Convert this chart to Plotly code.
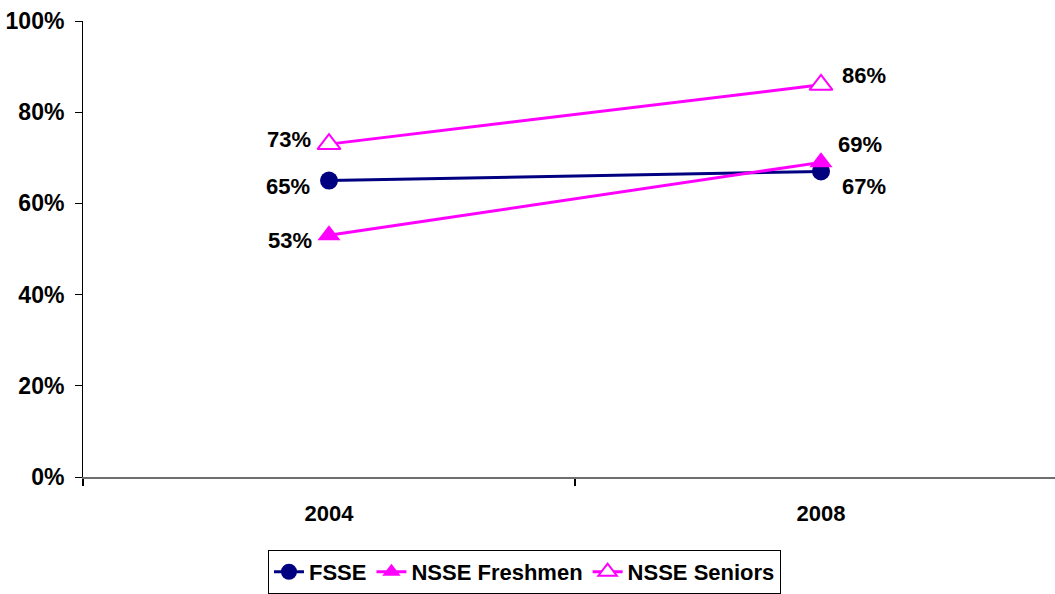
import plotly.graph_objects as go

# Survey years and percentage of respondents per group
years = ["2004", "2008"]
fsse = [65, 67]
nsse_freshmen = [53, 69]
nsse_seniors = [73, 86]

y_ticks = [0, 20, 40, 60, 80, 100]
y_tick_labels = ["0%", "20%", "40%", "60%", "80%", "100%"]

NAVY = "#000080"
MAGENTA = "#FF00FF"
FONT = "Liberation Sans, Arial, sans-serif"
BOLD22 = dict(family=FONT, size=22, color="black", weight="bold")

# categories sit in the middle of unit-wide bands
xpos = [i + 0.5 for i in range(len(years))]

fig = go.Figure()

fig.add_trace(go.Scatter(
    x=xpos, y=fsse, name="FSSE", mode="lines+markers",
    line=dict(color=NAVY, width=3),
    marker=dict(symbol="circle", size=18, color=NAVY),
))
fig.add_trace(go.Scatter(
    x=xpos, y=nsse_freshmen, name="NSSE Freshmen", mode="lines+markers",
    line=dict(color=MAGENTA, width=3),
    marker=dict(symbol="triangle-up", size=20, color=MAGENTA),
))
fig.add_trace(go.Scatter(
    x=xpos, y=nsse_seniors, name="NSSE Seniors", mode="lines+markers",
    line=dict(color=MAGENTA, width=3),
    marker=dict(symbol="triangle-up", size=20, color="white",
                line=dict(color=MAGENTA, width=2)),
))

# value labels: (series, x/y pixel offsets per year)
label_offsets = [
    (fsse, [(-41, -6), (43, -15)]),
    (nsse_freshmen, [(-39, -5), (39, 18)]),
    (nsse_seniors, [(-40, 5), (43, 9)]),
]
for series, offs in label_offsets:
    for x, v, (dx, dy) in zip(xpos, series, offs):
        fig.add_annotation(
            x=x, y=v, text=f"{v}%", showarrow=False,
            xshift=dx, yshift=dy, font=BOLD22,
        )

fig.update_layout(
    width=1055, height=594,
    margin=dict(l=83, r=0, t=21, b=111),
    paper_bgcolor="white", plot_bgcolor="white",
    font=BOLD22,
    showlegend=True,
    legend=dict(
        orientation="h", x=0.1903, y=-0.160, xanchor="left", yanchor="top",
        bordercolor="black", borderwidth=1, bgcolor="white",
        font=BOLD22, itemwidth=30,
    ),
)

fig.update_xaxes(
    range=[0, 1.9756], tickvals=xpos, ticktext=years,
    ticks="", showgrid=False, zeroline=False,
    showline=True, linecolor="#6e6e6e", linewidth=2,
    ticklabelstandoff=16,
    minor=dict(tick0=0, dtick=1, ticks="outside", ticklen=7,
               tickcolor="black", tickwidth=2, showgrid=False),
    tickfont=BOLD22,
)
fig.update_yaxes(
    range=[0, 100], tickvals=y_ticks, ticktext=y_tick_labels,
    ticks="outside", ticklen=7, tickcolor="black", tickwidth=1,
    ticklabelstandoff=6,
    showgrid=False, zeroline=False,
    showline=True, linecolor="black", linewidth=1,
    tickfont=dict(family=FONT, size=23, color="black", weight="bold"),
)

fig.write_html("out.html")
